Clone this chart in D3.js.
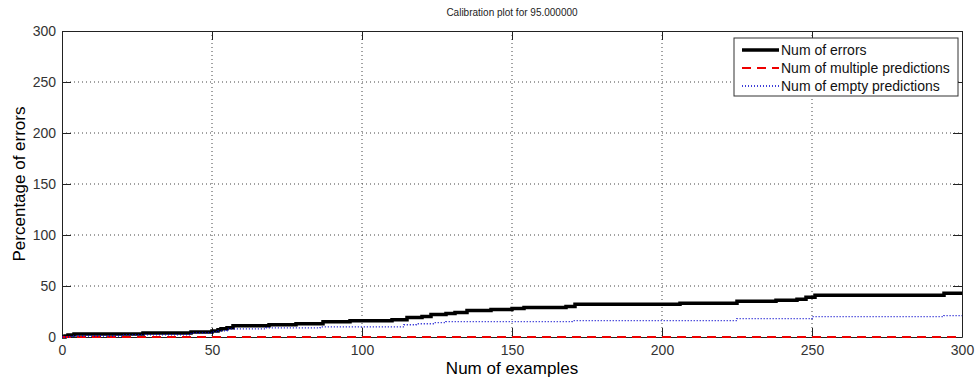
<!DOCTYPE html>
<html>
<head>
<meta charset="utf-8">
<script src="https://cdn.jsdelivr.net/npm/d3@7"></script>
<style>
  body { margin: 0; background: #fff; }
  svg { display: block; font-family: 'Liberation Sans', Arial, sans-serif; }
</style>
</head>
<body>
<div id="chart"></div>
<script>
const titleText = 'Calibration plot for 95.000000'
const xLabel = 'Num of examples'
const yLabel = 'Percentage of errors'
const xTicks = [0, 50, 100, 150, 200, 250, 300]
const yTicks = [0, 50, 100, 150, 200, 250, 300]

// [example index, cumulative value] step points
const numErrors = [
  [0, 0], [1, 1], [2, 2], [4, 3], [27, 4], [43, 5], [50, 6], [52, 7], [53, 8],
  [55, 9], [57, 11], [69, 12], [78, 13], [87, 15], [96, 16], [110, 17],
  [115, 19], [120, 20], [123, 22], [128, 23], [131, 24], [135, 26], [143, 27],
  [150, 28], [154, 29], [168, 30], [171, 32], [206, 33], [225, 35], [238, 36],
  [245, 37], [248, 39], [251, 41], [294, 43], [300, 43]
]
const numMultiple = [[0, 0], [300, 0]]
const numEmpty = [
  [0, 0], [3, 1], [20, 2], [43, 4], [50, 5], [52, 6], [55, 8], [68, 9],
  [86, 10], [114, 12], [118, 13], [124, 14], [128, 15], [170, 16], [225, 18],
  [250, 20], [294, 21], [300, 21]
]
const seriesNames = ['Num of errors', 'Num of multiple predictions', 'Num of empty predictions']

const margin = { top: 31, left: 62, right: 13, bottom: 40 }
const width = 975 - margin.left - margin.right
const height = 377 - margin.top - margin.bottom

const svg = d3
  .select('#chart')
  .append('svg')
  .attr('width', 975)
  .attr('height', 377)

const g = svg
  .append('g')
  .attr('transform', 'translate(' + margin.left + ',' + margin.top + ')')

const xPositionScale = d3.scaleLinear().domain([0, 300]).range([0, width])
const yPositionScale = d3.scaleLinear().domain([0, 300]).range([height, 0])

// grid
g.selectAll('.grid-x')
  .data(xTicks.slice(1, -1))
  .enter()
  .append('line')
  .attr('x1', d => xPositionScale(d))
  .attr('x2', d => xPositionScale(d))
  .attr('y1', 0)
  .attr('y2', height)
  .attr('stroke', '#444')
  .attr('stroke-dasharray', '1,3')

g.selectAll('.grid-y')
  .data(yTicks.slice(1, -1))
  .enter()
  .append('line')
  .attr('y1', d => yPositionScale(d))
  .attr('y2', d => yPositionScale(d))
  .attr('x1', 0)
  .attr('x2', width)
  .attr('stroke', '#444')
  .attr('stroke-dasharray', '1,3')

// axes, ticks pointing inward on all sides
const tickLen = 9
function styleAxis(sel) {
  sel.select('.domain').attr('stroke', '#222')
  sel.selectAll('.tick line').attr('stroke', '#222')
  sel.selectAll('.tick text').attr('fill', '#333').style('font-size', '14px')
}

g.append('g')
  .attr('transform', `translate(0,${height})`)
  .call(d3.axisBottom(xPositionScale).tickValues(xTicks).tickSizeInner(-tickLen).tickSizeOuter(0).tickPadding(5))
  .call(styleAxis)
  .selectAll('.tick text').attr('dy', '0.95em')

g.append('g')
  .call(d3.axisLeft(yPositionScale).tickValues(yTicks).tickSizeInner(-tickLen).tickSizeOuter(0).tickPadding(6))
  .call(styleAxis)

g.append('g')
  .call(d3.axisTop(xPositionScale).tickValues(xTicks).tickSizeInner(-tickLen).tickSizeOuter(0).tickFormat(''))
  .call(styleAxis)

g.append('g')
  .attr('transform', `translate(${width},0)`)
  .call(d3.axisRight(yPositionScale).tickValues(yTicks).tickSizeInner(-tickLen).tickSizeOuter(0).tickFormat(''))
  .call(styleAxis)

// lines
const line = d3
  .line()
  .x(d => xPositionScale(d[0]))
  .y(d => yPositionScale(d[1]))
  .curve(d3.curveStepAfter)

const styles = [
  { color: '#000', width: 3.5, dash: null },
  { color: '#e00', width: 2, dash: '9,6' },
  { color: '#00c', width: 1.3, dash: '1,2' }
]
const allSeries = [numErrors, numMultiple, numEmpty]

g.selectAll('.series')
  .data(allSeries)
  .enter()
  .append('path')
  .attr('class', 'series')
  .attr('d', d => line(d))
  .attr('fill', 'none')
  .attr('stroke', (d, i) => styles[i].color)
  .attr('stroke-width', (d, i) => styles[i].width)
  .attr('stroke-dasharray', (d, i) => styles[i].dash)

// title and labels
svg.append('text')
  .attr('x', margin.left + width / 2)
  .attr('y', 16)
  .attr('text-anchor', 'middle')
  .style('font-size', '10px')
  .attr('fill', '#222')
  .text(titleText)

svg.append('text')
  .attr('x', margin.left + width / 2)
  .attr('y', 374)
  .attr('text-anchor', 'middle')
  .style('font-size', '17px')
  .attr('fill', '#000')
  .text(xLabel)

svg.append('text')
  .attr('transform', `translate(25,${margin.top + height / 2}) rotate(-90)`)
  .attr('text-anchor', 'middle')
  .style('font-size', '17px')
  .attr('fill', '#000')
  .text(yLabel)

// legend
const legend = svg.append('g').attr('transform', 'translate(734,38)')
legend.append('rect')
  .attr('width', 224)
  .attr('height', 58)
  .attr('fill', '#fff')
  .attr('stroke', '#333')

const items = legend.selectAll('.item')
  .data(seriesNames)
  .enter()
  .append('g')
  .attr('transform', (d, i) => `translate(0,${12 + i * 18})`)

items.append('line')
  .attr('x1', 8)
  .attr('x2', 45)
  .attr('stroke', (d, i) => styles[i].color)
  .attr('stroke-width', (d, i) => styles[i].width)
  .attr('stroke-dasharray', (d, i) => styles[i].dash)

items.append('text')
  .attr('x', 47)
  .attr('dy', '0.35em')
  .style('font-size', '14px')
  .attr('fill', '#111')
  .text(d => d)
</script>
</body>
</html>
